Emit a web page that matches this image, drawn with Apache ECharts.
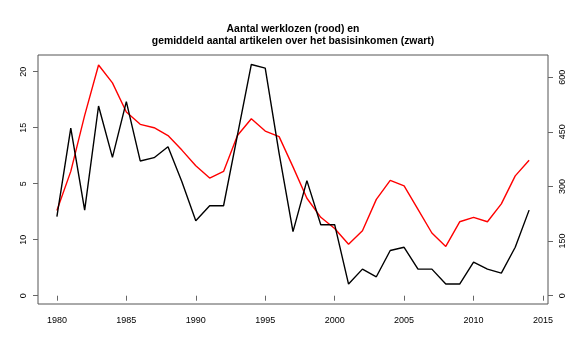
<!DOCTYPE html>
<html>
<head>
<meta charset="utf-8">
<script src="https://cdn.jsdelivr.net/npm/echarts@6/dist/echarts.min.js"></script>
<style>html,body{margin:0;padding:0;background:#fff}#c{width:570px;height:357px}</style>
</head>
<body>
<div id="c"></div>
<script>
const years = [1980,1981,1982,1983,1984,1985,1986,1987,1988,1989,1990,1991,1992,1993,1994,1995,1996,1997,1998,1999,2000,2001,2002,2003,2004,2005,2006,2007,2008,2009,2010,2011,2012,2013,2014];
const werklozen = [7.6,11.1,16.1,20.6,19.0,16.4,15.3,15.0,14.3,13.0,11.6,10.5,11.1,14.3,15.8,14.7,14.2,11.5,8.7,7.0,6.0,4.6,5.8,8.6,10.3,9.8,7.7,5.6,4.4,6.6,7.0,6.6,8.2,10.7,12.1];
const artikelen = [217,460,235,521,380,533,370,379,409,313,206,247,247,441,635,625,391,176,316,195,195,32,73,52,124,133,73,73,32,32,92,73,62,133,235];
const xTicks = [1980,1985,1990,1995,2000,2005,2010,2015];
const leftTickValues = [0,5,10,15,20];
const leftTickLabels = ["0","10","5","15","20"];
const rightTickValues = [0,150,300,450,600];

const font = '"Liberation Sans", Arial, sans-serif';
const chart = echarts.init(document.getElementById('c'), null, {renderer:'canvas'});
chart.setOption({
  animation: false,
  backgroundColor: '#fff',
  title: {
    text: 'Aantal werklozen (rood) en\ngemiddeld aantal artikelen over het basisinkomen (zwart)',
    left: 293, top: 23, textAlign: 'center', padding: 0,
    textStyle: {fontFamily: font, fontSize: 10.4, fontWeight: 'bold', color: '#000', lineHeight: 12}
  },
  grid: {left: 38, right: 22, top: 55, bottom: 53, show: true, borderColor: '#555', borderWidth: 1, backgroundColor: 'transparent'},
  xAxis: {
    type: 'value', min: 1978.64, max: 2015.36,
    axisLine: {show: false},
    splitLine: {show: false},
    axisTick: {show: true, length: 5, lineStyle: {color: '#666'}, customValues: xTicks},
    axisLabel: {fontFamily: font, fontSize: 9, color: '#000', margin: 12, customValues: xTicks, formatter: v => String(v)}
  },
  yAxis: [{
    type: 'value', min: -0.74, max: 21.49, position: 'left',
    axisLine: {show: false}, splitLine: {show: false},
    axisTick: {show: true, length: 5, lineStyle: {color: '#666'}, customValues: leftTickValues},
    axisLabel: {fontFamily: font, fontSize: 9, color: '#000', rotate: 90, margin: 10, customValues: leftTickValues,
      formatter: v => { const i = leftTickValues.indexOf(Math.round(v)); return i >= 0 ? leftTickLabels[i] : ''; }}
  }, {
    type: 'value', min: -22.8, max: 661, position: 'right',
    axisLine: {show: false}, splitLine: {show: false},
    axisTick: {show: true, length: 5, lineStyle: {color: '#666'}, customValues: rightTickValues},
    axisLabel: {fontFamily: font, fontSize: 9, color: '#000', rotate: 90, margin: 10, customValues: rightTickValues, formatter: v => String(v)}
  }],
  series: [{
    type: 'line', yAxisIndex: 0, data: years.map((y, i) => [y, werklozen[i]]),
    symbol: 'none', lineStyle: {color: '#ff0000', width: 1.4}, z: 3
  }, {
    type: 'line', yAxisIndex: 1, data: years.map((y, i) => [y, artikelen[i]]),
    symbol: 'none', lineStyle: {color: '#000', width: 1.4}, z: 4
  }]
});
</script>
</body>
</html>
